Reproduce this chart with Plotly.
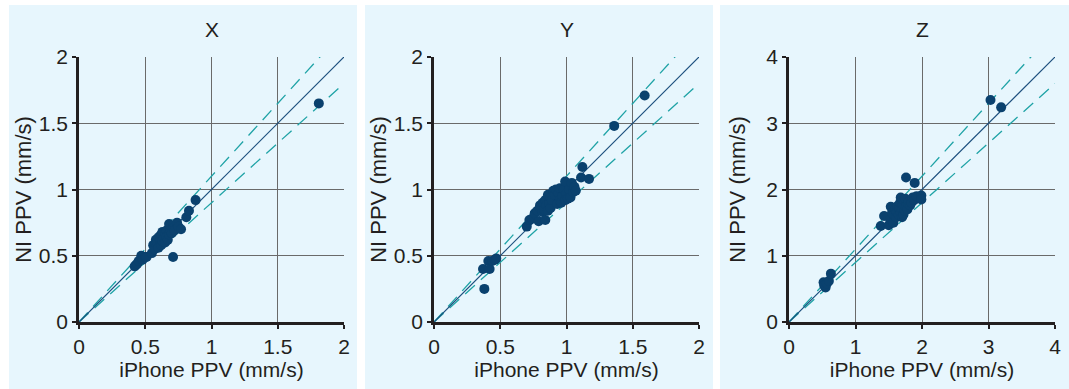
import plotly.graph_objects as go

W, H = 1069, 389

# Components and axis limits
components = ["X", "Y", "Z"]
axis_max = [2, 2, 4]
tick_step = [0.5, 0.5, 1]

# Peak particle velocity, iPhone vs. NI reference (mm/s)
iphone_x = [0.42, 0.43, 0.44, 0.45, 0.47, 0.48, 0.50, 0.51, 0.55, 0.56, 0.57, 0.58, 0.58,
            0.59, 0.60, 0.60, 0.61, 0.62, 0.62, 0.63, 0.63, 0.64, 0.65, 0.65, 0.66, 0.66,
            0.67, 0.68, 0.68, 0.69, 0.70, 0.71, 0.72, 0.74, 0.75, 0.77, 0.71, 0.81, 0.83,
            0.88, 1.81]
ni_x = [0.42, 0.43, 0.44, 0.46, 0.50, 0.47, 0.49, 0.49, 0.52, 0.58, 0.55, 0.62, 0.59,
        0.60, 0.64, 0.56, 0.62, 0.58, 0.66, 0.61, 0.68, 0.63, 0.60, 0.67, 0.69, 0.64,
        0.62, 0.66, 0.74, 0.69, 0.67, 0.71, 0.69, 0.75, 0.72, 0.70, 0.49, 0.79, 0.84,
        0.92, 1.65]

iphone_y = [0.37, 0.38, 0.41, 0.42, 0.44, 0.46, 0.47,
            0.70, 0.72, 0.74, 0.76, 0.78, 0.79, 0.80, 0.80, 0.82, 0.82, 0.83, 0.84, 0.84,
            0.85, 0.86, 0.86, 0.87, 0.88, 0.88, 0.89, 0.90, 0.91, 0.92, 0.93, 0.94, 0.95,
            0.95, 0.96, 0.97, 0.98, 0.99, 0.99, 1.00, 1.01, 1.02, 1.03, 1.04, 1.05, 1.06,
            1.07, 1.11, 1.12, 1.17, 1.36, 1.59]
ni_y = [0.40, 0.25, 0.46, 0.40, 0.46, 0.47, 0.48,
        0.72, 0.77, 0.78, 0.82, 0.84, 0.76, 0.86, 0.88, 0.90, 0.83, 0.85, 0.92, 0.77,
        0.88, 0.96, 0.84, 0.90, 0.94, 0.86, 0.92, 0.99, 0.96, 1.00, 0.89, 0.97, 1.01,
        0.92, 0.90, 0.95, 1.00, 1.06, 0.92, 0.97, 0.93, 1.00, 0.94, 1.05, 0.98, 1.02,
        0.99, 1.09, 1.17, 1.08, 1.48, 1.71]

iphone_z = [0.52, 0.53, 0.55, 0.57, 0.60, 0.63,
            1.38, 1.43, 1.50, 1.52, 1.53, 1.55, 1.57, 1.58, 1.60, 1.61, 1.62, 1.63, 1.65,
            1.66, 1.67, 1.68, 1.68, 1.70, 1.70, 1.71, 1.72, 1.73, 1.74, 1.75, 1.76, 1.76,
            1.78, 1.79, 1.80, 1.82, 1.84, 1.86, 1.88, 1.89, 1.92, 1.99, 1.99, 3.03, 3.19]
ni_z = [0.60, 0.55, 0.52, 0.58, 0.62, 0.73,
        1.45, 1.60, 1.46, 1.55, 1.74, 1.65, 1.50, 1.62, 1.70, 1.58, 1.66, 1.75, 1.62,
        1.72, 1.80, 1.88, 1.64, 1.58, 1.70, 1.77, 1.62, 1.84, 1.68, 1.86, 1.74, 2.18,
        1.70, 1.79, 1.82, 1.76, 1.80, 1.88, 1.84, 2.10, 1.90, 1.91, 1.85, 3.35, 3.24]

iphone_vals = [iphone_x, iphone_y, iphone_z]
ni_vals = [ni_x, ni_y, ni_z]

# Line of equality and +/-10 % agreement band
identity_slope = 1.0
band_slopes = [1.1, 0.9]

PANEL_BG = "#e7f6fd"
MARKER = "#0a416e"
IDENTITY = "#1c4f7e"
BAND = "#1fa3a6"
GRID = "#6a6a6a"
AXIS = "#231f20"
TEXT = "#231f20"
FONT = "Liberation Sans, Arial, sans-serif"

# Pixel layout of each panel and its plotting area
panel_px = [(9, 357), (365, 713), (720, 1069)]
plot_px = [(79, 344), (434, 699), (789, 1055)]
plot_top, plot_bottom = 57, 322
# y titles sit at the same distance from the axis whatever the tick label width
y_title_standoff = [2, 2, 15]

fig = go.Figure()
shapes = []
annotations = []

for i, name in enumerate(components):
    n = "" if i == 0 else str(i + 1)
    xa, ya = "x" + n, "y" + n
    amax = axis_max[i]

    # agreement band lines
    for k in band_slopes:
        fig.add_trace(go.Scatter(
            x=[0, amax], y=[0, k * amax], mode="lines", xaxis=xa, yaxis=ya,
            line=dict(color=BAND, width=1.3, dash="13px,8px"),
            hoverinfo="skip", showlegend=False))
    # line of equality
    fig.add_trace(go.Scatter(
        x=[0, amax], y=[0, identity_slope * amax], mode="lines", xaxis=xa, yaxis=ya,
        line=dict(color=IDENTITY, width=1.2), hoverinfo="skip", showlegend=False))
    # measurements
    fig.add_trace(go.Scatter(
        x=iphone_vals[i], y=ni_vals[i], mode="markers", xaxis=xa, yaxis=ya,
        marker=dict(color=MARKER, size=10, line=dict(width=0)),
        cliponaxis=False, showlegend=False, name=name))

    x0, x1 = plot_px[i]
    axis_common = dict(
        showgrid=True, gridcolor=GRID, gridwidth=1,
        zeroline=False, showline=True, linecolor=AXIS, linewidth=2.5,
        ticks="outside", ticklen=4, tickwidth=2, tickcolor=AXIS,
        tickfont=dict(family=FONT, size=21, color=TEXT),
        dtick=tick_step[i], tick0=0, range=[0, amax], fixedrange=True,
        automargin=False,
    )
    fig.layout["xaxis" + n] = dict(
        axis_common, domain=[x0 / W, x1 / W], anchor=ya,
        title=dict(text="iPhone PPV (mm/s)", standoff=3,
                   font=dict(family=FONT, size=21, color=TEXT)),
    )
    fig.layout["yaxis" + n] = dict(
        axis_common, domain=[1 - plot_bottom / H, 1 - plot_top / H], anchor=xa,
        title=dict(text="NI PPV (mm/s)", standoff=y_title_standoff[i],
                   font=dict(family=FONT, size=22, color=TEXT)),
    )

    # panel background
    p0, p1 = panel_px[i]
    shapes.append(dict(type="rect", xref="paper", yref="paper", layer="below",
                       x0=p0 / W, x1=p1 / W, y0=0, y1=1 - 5 / H,
                       fillcolor=PANEL_BG, line=dict(width=0)))

    # component title
    annotations.append(dict(text=name, xref="paper", yref="paper",
                            x=(x0 + x1) / 2 / W, y=1 - 30 / H,
                            xanchor="center", yanchor="middle", showarrow=False,
                            font=dict(family=FONT, size=21, color=TEXT)))

fig.update_layout(
    width=W, height=H, margin=dict(l=0, r=0, t=0, b=0, pad=0, autoexpand=False),
    paper_bgcolor="white", plot_bgcolor=PANEL_BG,
    shapes=shapes, annotations=annotations, showlegend=False,
)

fig.write_html("out.html")
